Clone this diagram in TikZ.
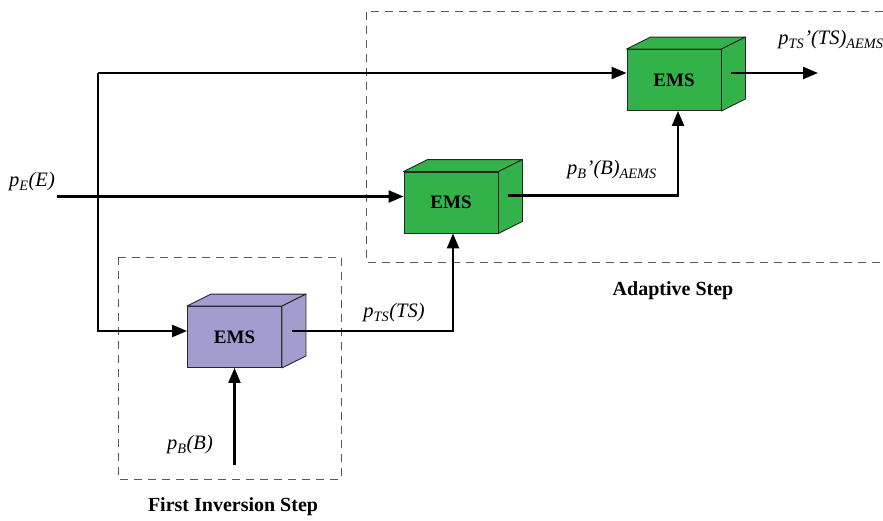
\documentclass[tikz,border=0pt]{standalone}
\usepackage{fontspec}
\setmainfont{Liberation Serif}
\usetikzlibrary{arrows.meta,calc}
\definecolor{emsgreen}{RGB}{52,178,74}
\definecolor{emspurple}{RGB}{162,157,206}
\tikzset{
  ems/.style={draw=black!85,line width=0.9pt,minimum width=94pt,minimum height=61pt,
    font=\fontsize{19}{21}\selectfont\bfseries},
  flow/.style={line width=2.3pt,-{Triangle[length=15pt,width=12pt]}},
  stepbox/.style={draw=black!65,dash pattern=on 8pt off 6pt,line width=1pt},
  lbl/.style={font=\fontsize{20.5}{23}\selectfont\itshape,inner sep=0pt},
  steplbl/.style={font=\fontsize{20}{22}\selectfont\bfseries,inner sep=0pt}
}
\begin{document}
\begin{tikzpicture}[x=1pt,y=-1pt]
\useasboundingbox (0,0) rectangle (883,520);
% dashed step regions
\draw[stepbox] (118,257) rectangle (341,479);
\draw[stepbox] (883,11) -- (366,11) -- (366,262) -- (883,262);
\node[steplbl] (first) at (233,507) {First Inversion Step};
\node[steplbl] (adapt) at (673,291) {Adaptive Step};
% the three EMS blocks
\node[ems,fill=emspurple] (ems1) at (234.5,337) {EMS};
\node[ems,fill=emsgreen] (ems2) at (451,202.5) {EMS};
\node[ems,fill=emsgreen] (ems3) at (674,80) {EMS};
\foreach \n/\c in {ems1/emspurple,ems2/emsgreen,ems3/emsgreen}{
  \draw[draw=black!85,line width=0.9pt,fill=\c,line join=round]
    (\n.north west) -- ++(24,-12) -- ($(\n.north east)+(24,-12)$) -- (\n.north east) -- cycle;
  \draw[draw=black!85,line width=0.9pt,fill=\c,line join=round]
    (\n.north east) -- ++(24,-12) -- ($(\n.south east)+(24,-12)$) -- (\n.south east) -- cycle;
}
% inputs and outputs
\coordinate (split) at (98,73);
\coordinate (inE) at (57,196.5);
\coordinate (inB) at (234.5,465);
\coordinate (outTS) at (818,73);
\draw[flow] (split) -- (split -| ems3.west);
\draw[flow] (split) |- ($(ems1.west)+(0,-6)$);
\draw[flow] (inE) -- (inE -| ems2.west);
\draw[flow] (inB) -- (ems1.south);
\draw[flow] ($(ems1.east)+(10,-6)$) -| ($(ems2.south)+(2,0)$);
\draw[flow] ($(ems2.east)+(10,-7)$) -| ($(ems3.south)+(4,0)$);
\draw[flow] ($(ems3.east)+(10,-7)$) -- (outTS);
% labels
\node[lbl] (lE) at (32,182) {p\textsubscript{E}(E)};
\node[lbl] (lB) at (190,445) {p\textsubscript{B}(B)};
\node[lbl] (lTS) at (394,313) {p\textsubscript{TS}(TS)};
\node[lbl] (lBA) at (612,170) {p\textsubscript{B}\textquoteright(B)\textsubscript{AEMS}};
\node[lbl] (lTSA) at (831,40) {p\textsubscript{TS}\textquoteright(TS)\textsubscript{AEMS}};
\end{tikzpicture}
\end{document}
